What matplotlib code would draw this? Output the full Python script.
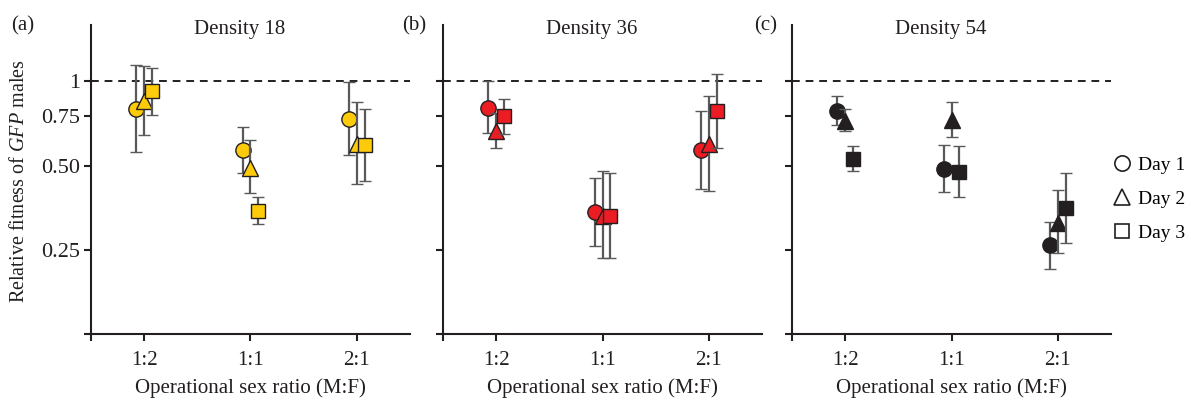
import matplotlib.pyplot as plt
from matplotlib.lines import Line2D
import numpy as np

plt.rcParams['font.family'] = ['Liberation Serif', 'DejaVu Serif']
plt.rcParams['mathtext.fontset'] = 'custom'
plt.rcParams['mathtext.rm'] = 'Liberation Serif'
plt.rcParams['mathtext.it'] = 'Liberation Serif:italic'

ratios = ['1:2', '1:1', '2:1']
days = ['Day 1', 'Day 2', 'Day 3']
titles = ['Density 18', 'Density 36', 'Density 54']
letters = ['(a)', '(b)', '(c)']
colors = ['#fdcb0a', '#ec1c24', '#231f20']

# rows = day 1..3, cols = 1:2, 1:1, 2:1
d18_mean = [[0.798, 0.569, 0.735], [0.851, 0.492, 0.597], [0.921, 0.344, 0.592]]
d18_lo = [[0.558, 0.472, 0.546], [0.644, 0.400, 0.429], [0.755, 0.309, 0.439]]
d18_hi = [[1.144, 0.684, 0.994], [1.134, 0.615, 0.843], [1.120, 0.385, 0.794]]

d36_mean = [[0.805, 0.342, 0.567], [0.666, 0.331, 0.596], [0.751, 0.331, 0.785]]
d36_lo = [[0.653, 0.257, 0.411], [0.577, 0.233, 0.405], [0.650, 0.234, 0.577]]
d36_hi = [[1.000, 0.453, 0.783], [0.770, 0.479, 0.886], [0.867, 0.470, 1.065]]

d54_mean = [[0.781, 0.486, 0.260], [0.723, 0.730, 0.312], [0.528, 0.476, 0.353]]
d54_lo = [[0.699, 0.401, 0.214], [0.664, 0.635, 0.243], [0.477, 0.387, 0.265]]
d54_hi = [[0.884, 0.593, 0.315], [0.798, 0.846, 0.409], [0.586, 0.585, 0.469]]

data = [(d18_mean, d18_lo, d18_hi), (d36_mean, d36_lo, d36_hi), (d54_mean, d54_lo, d54_hi)]
markers = ['o', '^', 's']
msizes = [11, 12, 10]
offsets = [-0.075, 0.0, 0.075]
ink = '#231f20'
errc = '#58595b'
fs = 15

fig = plt.figure(figsize=(11.91, 4.01), dpi=100)
lefts = [91, 443, 792]
W, H = 1191, 401
for p in range(3):
    ax = fig.add_axes([lefts[p] / W, 1 - 334 / H, 319 / W, 309 / H])
    mean, lo, hi = data[p]
    x = np.arange(1, 4)
    ax.axhline(1, color=ink, ls=(0, (4, 3)), lw=1.4, zorder=1)
    for d in range(3):
        m = np.array(mean[d])
        yerr = [m - np.array(lo[d]), np.array(hi[d]) - m]
        ax.errorbar(x + offsets[d], m, yerr=yerr, fmt=markers[d], ms=msizes[d],
                    mfc=colors[p], mec=ink, mew=1.0, ecolor=errc, elinewidth=1.6,
                    capsize=4, capthick=1.6, zorder=3 + d)
    ax.set_yscale('log')
    ax.set_ylim(0.125, 1.59)
    ax.set_xlim(0.5, 3.5)
    ax.set_yticks([0.125, 0.25, 0.5, 0.75, 1])
    ax.yaxis.set_minor_locator(plt.NullLocator())
    ax.set_xticks([0.5, 1, 2, 3])
    ax.set_xticklabels([''] + ratios, fontsize=fs)
    if p == 0:
        ax.set_yticklabels(['', '0.25', '0.50', '0.75', '1'], fontsize=16)
    else:
        ax.set_yticklabels([])
    for s in ['top', 'right']:
        ax.spines[s].set_visible(False)
    for s in ['left', 'bottom']:
        ax.spines[s].set_linewidth(1.5)
        ax.spines[s].set_color(ink)
    ax.tick_params(axis='both', width=1.5, length=5, color=ink, labelcolor=ink)
    ax.tick_params(axis='x', pad=7)
    ax.tick_params(axis='y', pad=3)
    ax.text(0.467, 0.985, titles[p], transform=ax.transAxes, ha='center', va='center',
            fontsize=fs, color=ink)
    ax.text(0.5, -54 / 309, 'Operational sex ratio (M:F)', transform=ax.transAxes,
            ha='center', va='center', fontsize=fs, color=ink)

for p, xl in enumerate([11, 402, 754]):
    fig.text(xl / W, 1 - 26 / H, letters[p], ha='left', va='center', fontsize=fs, color=ink)

fig.text(20 / W, 1 - 181 / H, 'Relative fitness of $\\mathit{GFP}$ males', rotation=90,
         ha='center', va='center', fontsize=14.5, color=ink)

handles = [Line2D([], [], ls='none', marker=markers[d], ms=msizes[d], mfc='white',
                  mec=ink, mew=1.2) for d in range(3)]
fig.legend(handles, days, loc='center left', bbox_to_anchor=(1103 / W, 1 - 199 / H),
           frameon=False, fontsize=14, handletextpad=0.2, labelspacing=0.85,
           borderaxespad=0, handlelength=1.2)

fig.savefig('out.png', dpi=100)
